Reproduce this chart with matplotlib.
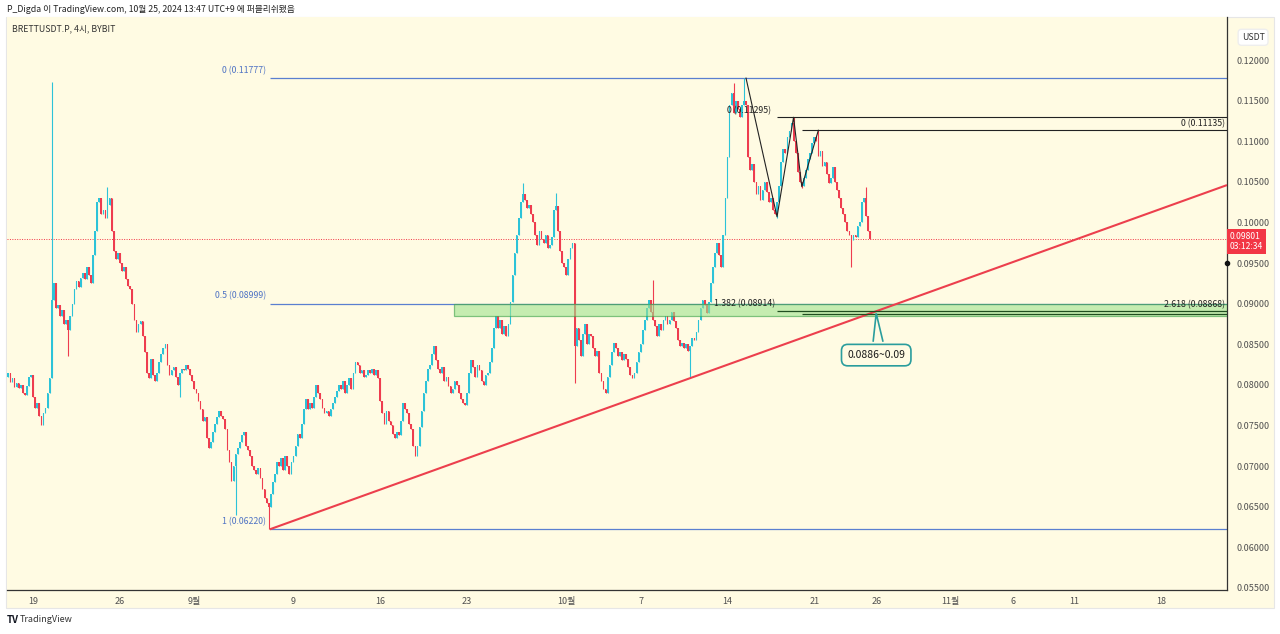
import numpy as np
import pandas as pd
import matplotlib
matplotlib.use('Agg')
import matplotlib.pyplot as plt
import matplotlib.dates as mdates
from matplotlib.patches import Rectangle, Polygon

plt.rcParams['font.family'] = ['Noto Sans CJK KR', 'DejaVu Sans']

# BRETTUSDT.P 4h closes, one row per day starting 2024-08-17 00:00
daily_closes = [
    [0.0815, 0.0803, 0.0808, 0.0797, 0.0802, 0.0796],  # 08-17
    [0.0800, 0.0790, 0.0788, 0.0798, 0.0810, 0.0812],
    [0.0785, 0.0772, 0.0778, 0.0762, 0.0750, 0.0765],
    [0.0772, 0.0790, 0.0808, 0.0905, 0.0925, 0.0895],  # 08-20 spike
    [0.0898, 0.0885, 0.0892, 0.0875, 0.0880, 0.0868],
    [0.0885, 0.0900, 0.0918, 0.0928, 0.0920, 0.0932],
    [0.0938, 0.0930, 0.0945, 0.0935, 0.0925, 0.0960],
    [0.0990, 0.1025, 0.1030, 0.1010, 0.1015, 0.1005],  # 08-24
    [0.1022, 0.1030, 0.0990, 0.0965, 0.0955, 0.0962],
    [0.0950, 0.0940, 0.0945, 0.0930, 0.0922, 0.0918],
    [0.0900, 0.0880, 0.0865, 0.0875, 0.0878, 0.0860],
    [0.0840, 0.0815, 0.0808, 0.0832, 0.0812, 0.0805],
    [0.0815, 0.0828, 0.0838, 0.0845, 0.0850, 0.0825],
    [0.0812, 0.0818, 0.0822, 0.0810, 0.0800, 0.0815],
    [0.0820, 0.0818, 0.0825, 0.0820, 0.0812, 0.0805],
    [0.0795, 0.0790, 0.0780, 0.0770, 0.0755, 0.0760],  # 09-01
    [0.0735, 0.0722, 0.0730, 0.0742, 0.0752, 0.0760],
    [0.0768, 0.0762, 0.0758, 0.0745, 0.0720, 0.0705],
    [0.0682, 0.0700, 0.0715, 0.0722, 0.0730, 0.0738],
    [0.0742, 0.0725, 0.0720, 0.0712, 0.0700, 0.0695],
    [0.0690, 0.0698, 0.0685, 0.0672, 0.0660, 0.0655],
    [0.0650, 0.0665, 0.0680, 0.0690, 0.0705, 0.0700],  # 09-07 low
    [0.0710, 0.0695, 0.0712, 0.0700, 0.0690, 0.0705],
    [0.0712, 0.0725, 0.0740, 0.0735, 0.0752, 0.0770],
    [0.0782, 0.0770, 0.0778, 0.0772, 0.0785, 0.0800],
    [0.0790, 0.0782, 0.0772, 0.0765, 0.0768, 0.0762],
    [0.0770, 0.0778, 0.0785, 0.0792, 0.0800, 0.0795],
    [0.0805, 0.0790, 0.0800, 0.0808, 0.0795, 0.0815],
    [0.0828, 0.0825, 0.0815, 0.0818, 0.0810, 0.0812],
    [0.0818, 0.0815, 0.0820, 0.0812, 0.0818, 0.0808],
    [0.0780, 0.0765, 0.0752, 0.0768, 0.0755, 0.0750],  # 09-16
    [0.0740, 0.0735, 0.0742, 0.0738, 0.0755, 0.0778],
    [0.0770, 0.0765, 0.0752, 0.0745, 0.0725, 0.0712],
    [0.0725, 0.0748, 0.0768, 0.0790, 0.0805, 0.0820],
    [0.0825, 0.0838, 0.0848, 0.0830, 0.0820, 0.0815],
    [0.0822, 0.0805, 0.0810, 0.0798, 0.0790, 0.0795],
    [0.0805, 0.0800, 0.0790, 0.0782, 0.0778, 0.0775],
    [0.0790, 0.0815, 0.0830, 0.0822, 0.0810, 0.0825],  # 09-23
    [0.0818, 0.0805, 0.0800, 0.0812, 0.0815, 0.0828],
    [0.0845, 0.0870, 0.0885, 0.0870, 0.0880, 0.0862],
    [0.0872, 0.0860, 0.0875, 0.0902, 0.0935, 0.0962],
    [0.0985, 0.1005, 0.1025, 0.1035, 0.1028, 0.1018],
    [0.1022, 0.1010, 0.1000, 0.0985, 0.0972, 0.0990],
    [0.0980, 0.0975, 0.0985, 0.0968, 0.0972, 0.0982],
    [0.1015, 0.1020, 0.0990, 0.0965, 0.0950, 0.0945],  # 09-30
    [0.0935, 0.0955, 0.0968, 0.0975, 0.0848, 0.0870],
    [0.0855, 0.0835, 0.0862, 0.0875, 0.0850, 0.0862],
    [0.0860, 0.0845, 0.0835, 0.0842, 0.0815, 0.0805],
    [0.0795, 0.0790, 0.0810, 0.0825, 0.0840, 0.0852],
    [0.0845, 0.0835, 0.0840, 0.0830, 0.0838, 0.0832],
    [0.0822, 0.0812, 0.0808, 0.0815, 0.0828, 0.0840],
    [0.0850, 0.0868, 0.0880, 0.0895, 0.0905, 0.0890],  # 10-07
    [0.0880, 0.0872, 0.0860, 0.0875, 0.0868, 0.0880],
    [0.0885, 0.0875, 0.0880, 0.0890, 0.0878, 0.0870],
    [0.0855, 0.0848, 0.0852, 0.0845, 0.0850, 0.0842],
    [0.0848, 0.0858, 0.0855, 0.0865, 0.0880, 0.0895],
    [0.0905, 0.0898, 0.0888, 0.0902, 0.0925, 0.0945],
    [0.0962, 0.0975, 0.0960, 0.0945, 0.0985, 0.1030],
    [0.1080, 0.1145, 0.1160, 0.1135, 0.1150, 0.1140],  # 10-14
    [0.1130, 0.1145, 0.1150, 0.1145, 0.1080, 0.1065],
    [0.1072, 0.1050, 0.1035, 0.1045, 0.1028, 0.1040],
    [0.1050, 0.1038, 0.1025, 0.1030, 0.1015, 0.1010],
    [0.1025, 0.1045, 0.1075, 0.1090, 0.1085, 0.1105],
    [0.1112, 0.1122, 0.1100, 0.1085, 0.1062, 0.1050],
    [0.1045, 0.1055, 0.1065, 0.1078, 0.1085, 0.1098],
    [0.1105, 0.1100, 0.1082, 0.1088, 0.1070, 0.1075],  # 10-21
    [0.1060, 0.1048, 0.1055, 0.1068, 0.1050, 0.1040],
    [0.1030, 0.1018, 0.1010, 0.1000, 0.0990, 0.0985],
    [0.0978, 0.0985, 0.0982, 0.0995, 0.1000, 0.1025],
    [0.1030, 0.1008, 0.0990, 0.09801],                  # 10-25
]
first_open = 0.0810
# long wicks (candle index -> price)
wick_highs = {21: 0.1173, 48: 0.1044, 249: 0.1049, 265: 0.1036, 312: 0.0929,
              351: 0.1172, 356: 0.11777, 380: 0.11295, 392: 0.11135, 415: 0.1044}
wick_lows = {29: 0.0835, 83: 0.0785, 110: 0.0640, 126: 0.0622, 274: 0.0802,
             330: 0.0810, 372: 0.1005, 384: 0.1042, 408: 0.0945}

# drawings
fib_start = '2024-09-07 02:00'
fib_levels = [0.11777, 0.08999, 0.06220]
fib_labels = ['0 (0.11777)', '0.5 (0.08999)', '1 (0.06220)']
zone_start = '2024-09-21 23:00'
zone_low, zone_high = 0.0885, 0.0900
trend_points = (['2024-09-07 02:00', '2024-11-23 07:00'], [0.0622, 0.1046])
zigzag_times = ['2024-10-15 12:00', '2024-10-18 00:00', '2024-10-19 08:00',
                '2024-10-20 00:00', '2024-10-21 08:00']
zigzag_prices = [0.11777, 0.1007, 0.11295, 0.1044, 0.11135]
last_price = 0.09801

x_ticks = ['2024-08-19', '2024-08-26', '2024-09-01', '2024-09-09', '2024-09-16',
           '2024-09-23', '2024-10-01', '2024-10-07', '2024-10-14', '2024-10-21',
           '2024-10-26', '2024-11-01', '2024-11-06', '2024-11-11', '2024-11-18']
x_labels = ['19', '26', '9월', '9', '16', '23', '10월', '7', '14', '21', '26',
            '11월', '6', '11', '18']

closes = np.array(sum(daily_closes, []))
opens = np.concatenate([[first_open], closes[:-1]])
highs = np.maximum(opens, closes)
lows = np.minimum(opens, closes)
for i, v in wick_highs.items():
    highs[i] = v
for i, v in wick_lows.items():
    lows[i] = v
times = mdates.date2num(pd.date_range('2024-08-17', periods=len(closes), freq='4h'))

up_c, dn_c = '#2cc3d8', '#ee3c4f'
colors = np.where(closes >= opens, up_c, dn_c)
bg = '#fffbe3'

fig = plt.figure(figsize=(12.8, 6.34), dpi=100)
fig.patch.set_facecolor('white')
frame = Rectangle((6 / 1280, 26 / 634), 1268 / 1280, 591 / 634,
                  transform=fig.transFigure, facecolor=bg,
                  edgecolor='#e6e6e6', lw=0.8, zorder=-10)
fig.add_artist(frame)
ax = fig.add_axes([7 / 1280, 44 / 634, 1220 / 1280, 573 / 634])
ax.set_zorder(1)
ax.set_facecolor(bg)

xmin = mdates.date2num(pd.Timestamp('2024-08-16 21:30'))
xmax = mdates.date2num(pd.Timestamp('2024-11-23 07:00'))
ax.set_xlim(xmin, xmax)
ax.set_ylim(0.05473, 0.1253)

# candles
ax.vlines(times, lows, highs, colors=colors, lw=0.8, zorder=3)
body = np.abs(closes - opens)
body = np.maximum(body, 0.00008)
ax.bar(times, body, bottom=np.minimum(opens, closes), width=0.135, color=colors,
       lw=0, zorder=4)

# current price line
ax.axhline(last_price, color='#f23645', lw=0.7, ls=(0, (1, 1.5)), zorder=2)

# fib retracement
fs = mdates.date2num(pd.Timestamp(fib_start))
for lv, lb in zip(fib_levels, fib_labels):
    ax.hlines(lv, fs, xmax, color='#5a7fd0', lw=0.9, zorder=2)
    ax.text(fs - 0.3, lv + 0.0004, lb, ha='right', va='bottom', fontsize=6.3,
            color='#4f73c4', zorder=6)

# green zone
zs = mdates.date2num(pd.Timestamp(zone_start))
ax.add_patch(Rectangle((zs, zone_low), xmax - zs, zone_high - zone_low,
                       facecolor='#9fe28f', alpha=0.6, edgecolor='#3aa047',
                       lw=0.9, zorder=5))

# trend line
tt = mdates.date2num(pd.to_datetime(trend_points[0]))
ax.plot(tt, trend_points[1], color='#ec3f4d', lw=1.5, zorder=6,
        solid_capstyle='butt')

# zigzag and extension levels
zt = mdates.date2num(pd.to_datetime(zigzag_times))
ax.plot(zt, zigzag_prices, color='#222222', lw=0.8, zorder=7)
ax.hlines(0.11295, zt[1], xmax, color='#222222', lw=0.8, zorder=6)
ax.hlines(0.11135, zt[3], xmax, color='#222222', lw=0.8, zorder=6)
ax.hlines(0.08914, zt[1], xmax, color='#1f4d1f', lw=0.9, zorder=6)
ax.hlines(0.08868, zt[3], xmax, color='#1f4d1f', lw=0.9, zorder=6)
ax.text(zt[1] - 0.45, 0.11295 + 0.0003, '0 (0.11295)', ha='right', va='bottom',
        fontsize=6.3, color='#222222', zorder=8)
ax.text(xmax - 0.2, 0.11135 + 0.0003, '0 (0.11135)', ha='right', va='bottom',
        fontsize=6.3, color='#222222', zorder=8)
ax.text(zt[1] - 5.1, 0.08914 + 0.0003, '1.382 (0.08914)', ha='left', va='bottom',
        fontsize=6.3, color='#222222', zorder=8)
ax.text(xmax - 0.2, 0.08868 + 0.0006, '2.618 (0.08868)', ha='right', va='bottom',
        fontsize=6.3, color='#222222', zorder=8)

# callout
cx = mdates.date2num(pd.Timestamp('2024-10-26 00:00'))
ax.add_patch(Polygon([[cx - 0.25, 0.0853], [cx, 0.0888], [cx + 0.55, 0.0853]],
                     closed=False, fill=False, edgecolor='#2a9d9d', lw=1.2,
                     zorder=9))
ax.text(cx, 0.08366, '0.0886~0.09', ha='center', va='center', fontsize=7.5,
        color='#1a1a1a', zorder=10,
        bbox=dict(boxstyle='round,pad=0.55,rounding_size=0.6', facecolor=bg,
                  edgecolor='#2a9d9d', lw=1.2))

# axes styling
ax.set_xticks(mdates.date2num(pd.to_datetime(x_ticks)))
ax.set_xticklabels(x_labels)
yt = np.arange(0.055, 0.12001, 0.005)
ax.set_yticks(yt)
ax.set_yticklabels([f'{v:.5f}' for v in yt])
ax.yaxis.tick_right()
ax.tick_params(axis='both', length=0, labelsize=6.5, colors='#505050')
ax.tick_params(axis='x', pad=5)
ax.tick_params(axis='y', pad=7)
for s in ['top', 'left']:
    ax.spines[s].set_visible(False)
for s in ['bottom', 'right']:
    ax.spines[s].set_color('#333333')
    ax.spines[s].set_linewidth(0.9)

# price tag on axis
ax.text(1.0025, last_price - 0.0004, '0.09801\n03:12:34', transform=ax.get_yaxis_transform(),
        ha='left', va='center', fontsize=6.2, color='white', linespacing=1.1,
        zorder=10, clip_on=False,
        bbox=dict(boxstyle='square,pad=0.35', facecolor='#f23645', edgecolor='none'))
ax.plot([1.0], [0.0950], marker='o', ms=3, color='#111111',
        transform=ax.get_yaxis_transform(), clip_on=False, zorder=10)
ax.text(1.012, 0.1228, 'USDT', transform=ax.get_yaxis_transform(), ha='left',
        va='center', fontsize=6.3, color='#333333', clip_on=False,
        bbox=dict(boxstyle='round,pad=0.4', facecolor='white', edgecolor='#eeeeee'))

# header / footer
fig.text(7 / 1280, 1 - 10 / 634, 'P_Digda 이 TradingView.com, 10월 25, 2024 13:47 UTC+9 에 퍼블리쉬됐음',
         fontsize=6.3, color='#222222', va='center')
fig.text(12 / 1280, 1 - 29 / 634, 'BRETTUSDT.P, 4시, BYBIT', fontsize=6.3,
         color='#333333', va='center', zorder=5)
fig.text(7 / 1280, 1 - 620 / 634, 'TV', fontsize=7, fontweight='bold',
         color='#131722', va='center')
fig.text(20 / 1280, 1 - 620 / 634, 'TradingView', fontsize=6.5, color='#333333',
         va='center')

fig.savefig('out.png', dpi=100, facecolor='white')
